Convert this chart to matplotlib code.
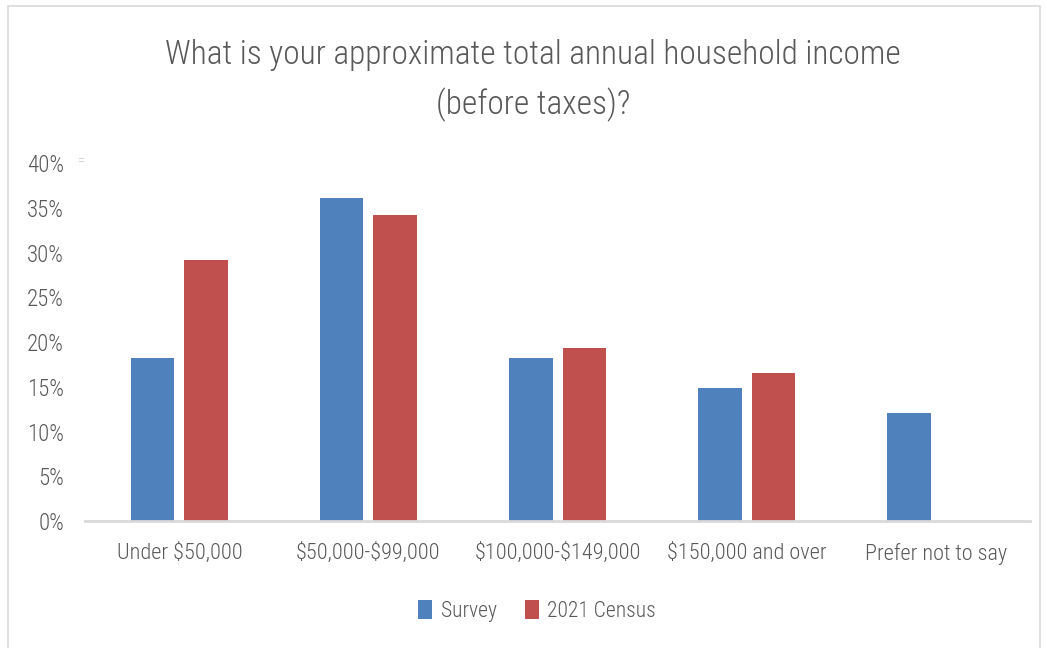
import matplotlib
matplotlib.use("Agg")
import matplotlib.pyplot as plt
import numpy as np
from matplotlib.patches import Rectangle

categories = ["Under \\$50,000", "\\$50,000-\\$99,000", "\\$100,000-\\$149,000", "\\$150,000 and over", "Prefer not to say"]
survey = [18.2, 36.1, 18.2, 14.9, 12.1]
census = [29.2, 34.2, 19.4, 16.6, 0.0]
series_names = ["Survey", "2021 Census"]
yticks = [0, 5, 10, 15, 20, 25, 30, 35, 40]
title = "What is your approximate total annual household income\n(before taxes)?"

plt.rcParams['font.family'] = ['Roboto Condensed', 'Open Sans Condensed', 'DejaVu Sans']
plt.rcParams['font.weight'] = 'light'

txt = "#595959"
blue = "#4F81BD"
red = "#C0504D"

fig = plt.figure(figsize=(10.47, 6.48), dpi=100)
fig.patches.append(Rectangle((0.008, -0.01), 0.985, 1.0, transform=fig.transFigure,
                             fill=False, edgecolor="#d9d9d9", linewidth=1.2))
ax = fig.add_axes([0.081, 0.196, 0.903, 0.552])
x = np.arange(len(categories))
w = 0.229
off = 0.141
ax.bar(x - off, survey, w, color=blue, label=series_names[0])
ax.bar(x + off, census, w, color=red, label=series_names[1])
ax.set_xlim(-0.5, len(categories) - 0.5)
ax.set_ylim(0, 40)
ax.set_yticks(yticks)
ax.set_yticklabels([f"{t}%" for t in yticks], fontsize=16.5, color=txt)
ax.set_xticks(x)
ax.set_xticklabels(categories, fontsize=16, color=txt)
ax.tick_params(axis='both', length=0)
ax.tick_params(axis='x', pad=16)
ax.tick_params(axis='y', pad=15)
for s in ["top", "right", "left"]:
    ax.spines[s].set_visible(False)
ax.spines["bottom"].set_color("#d9d9d9")
ax.spines["bottom"].set_linewidth(2)

fig.text(0.509, 0.876, title, ha="center", va="center", fontsize=24, color=txt, linespacing=1.6)
fig.text(0.077, 0.752, "=", ha="center", va="center", fontsize=10, color="#c8c8c8")
leg = fig.legend(loc="center", bbox_to_anchor=(0.513, 0.057), ncol=2, frameon=False,
                 fontsize=15.5, handlelength=0.65, handleheight=1.0, columnspacing=1.3, handletextpad=0.4)
for t in leg.get_texts():
    t.set_color(txt)
fig.savefig("out.png", dpi=100)
